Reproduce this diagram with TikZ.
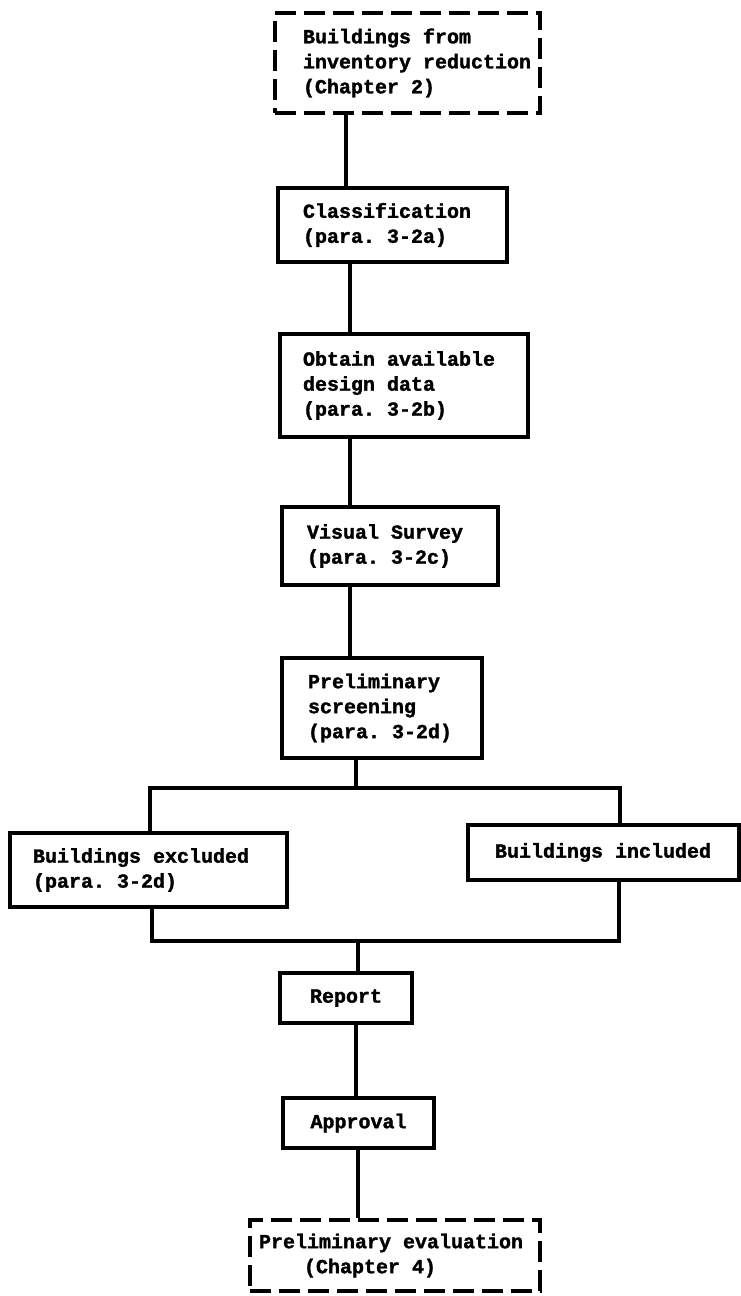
\documentclass[tikz,border=0pt]{standalone}
\usepackage{fontspec}
\setmonofont{Liberation Mono}[BoldFeatures={FakeBold=1.6}]
\begin{document}
\begin{tikzpicture}[x=1pt,y=-1pt,
  txt/.style={font=\ttfamily\bfseries\fontsize{20}{25}\selectfont},
  stepbox/.style={txt, draw, line width=3.2pt, inner ysep=0pt, align=flush left},
  centerbox/.style={txt, draw, line width=3.2pt, inner ysep=0pt, align=flush center},
  dashbox/.style={dash pattern=on 21pt off 8pt},
  link/.style={line width=3.2pt}]
\useasboundingbox (0,0) rectangle (741,1296);

% process boxes
\node[stepbox, dashbox, minimum height=100, inner xsep=28pt, text width=209pt]
  (src) at (407.5,63) {Buildings from\\\mbox{inventory reduction}\\(Chapter 2)};
\node[stepbox, minimum height=74, inner xsep=25pt, text width=179pt]
  (class) at (392.5,225) {Classification\\(para. 3-2a)};
\node[stepbox, minimum height=103, inner xsep=23pt, text width=202pt]
  (obtain) at (404,385.5) {Obtain available\\design data\\(para. 3-2b)};
\node[stepbox, minimum height=78, inner xsep=25pt, text width=166pt]
  (visual) at (390,546) {Visual Survey\\(para. 3-2c)};
\node[stepbox, minimum height=100, inner xsep=26pt, text width=148pt]
  (screen) at (382,708) {Preliminary\\screening\\(para. 3-2d)};
\node[stepbox, minimum height=74, inner xsep=23pt, text width=231pt]
  (excl) at (148.5,870) {Buildings excluded\\(para. 3-2d)};
\node[stepbox, minimum height=55, inner xsep=27pt, text width=217pt]
  (incl) at (603.5,852.5) {Buildings included};
\node[centerbox, minimum height=50, minimum width=132]
  (report) at (346,998) {Report};
\node[centerbox, minimum height=50, minimum width=151]
  (approval) at (358.5,1123) {Approval};
\node[stepbox, dashbox, minimum height=71, inner xsep=9pt, text width=272pt]
  (evalbox) at (395,1255.5) {Preliminary evaluation\\\hspace*{45pt}(Chapter 4)};

% spine and branch points
\coordinate (s1) at (346,0);
\coordinate (s2) at (350,0);
\coordinate (s3) at (356,0);
\coordinate (br) at (356,788);
\coordinate (bl) at (150,788);
\coordinate (brr) at (620,788);
\coordinate (ml) at (152,941);
\coordinate (mr) at (619,941);
\coordinate (mm) at (358,941);

% connectors
\draw[link] (src.south -| s1) -- (class.north -| s1);
\draw[link] (class.south -| s2) -- (obtain.north -| s2);
\draw[link] (obtain.south -| s2) -- (visual.north -| s2);
\draw[link] (visual.south -| s2) -- (screen.north -| s2);
\draw[link] (screen.south -| br) -- (br);
\draw[link] (excl.north -| bl) -- (bl) -- (brr) -- (incl.north -| brr);
\draw[link] (excl.south -| ml) -- (ml) -- (mr) -- (incl.south -| mr);
\draw[link] (mm) -- (report.north -| mm);
\draw[link] (report.south -| s3) -- (approval.north -| s3);
\draw[link] (approval.south -| mm) -- (evalbox.north -| mm);
\end{tikzpicture}
\end{document}
